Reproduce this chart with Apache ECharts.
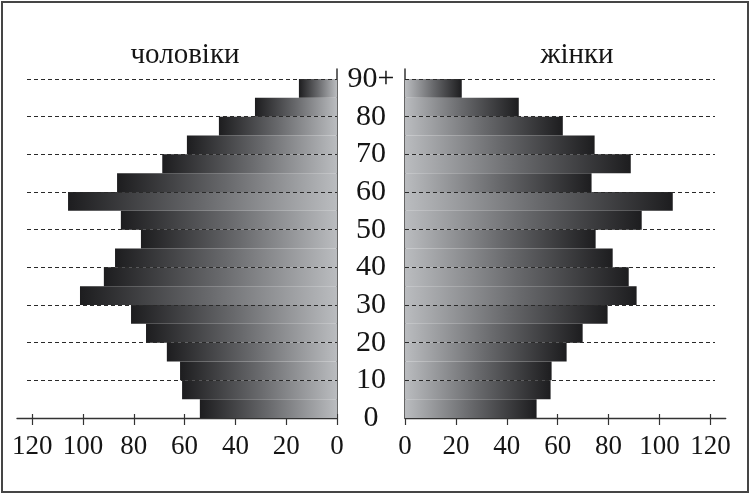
<!DOCTYPE html>
<html>
<head>
<meta charset="utf-8">
<script src="https://cdn.jsdelivr.net/npm/echarts@6/dist/echarts.min.js"></script>
<style>
  html, body { margin: 0; padding: 0; background: #fff; }
  #wrap { position: relative; width: 750px; height: 494px; }
  #chart { position: absolute; left: 0; top: 0; width: 750px; height: 494px; }
  #frame { position: absolute; left: 1px; top: 1px; width: 744px; height: 488px;
           border: 2px solid #454545; pointer-events: none; }
</style>
</head>
<body>
<div id="wrap"><div id="chart"></div><div id="frame"></div></div>
<script>
// ---- data (age groups bottom -> top) ----
const ageGroups = ['0-4','5-9','10-14','15-19','20-24','25-29','30-34','35-39','40-44',
                   '45-49','50-54','55-59','60-64','65-69','70-74','75-79','80-84','85-89'];
const maleValues   = [54.0, 61.0, 61.8, 67.0, 75.2, 81.1, 101.2, 91.8, 87.4,
                      77.2, 85.1, 105.9, 86.6, 68.8, 59.1, 46.5, 32.3, 15.0];
const femaleValues = [51.7, 57.2, 57.6, 63.5, 69.8, 79.6, 91.0, 87.9, 81.6,
                      74.9, 93.0, 105.2, 73.3, 88.7, 74.5, 62.0, 44.7, 22.3];
const valueTicks = [0, 20, 40, 60, 80, 100, 120];
const ageTicks = [0, 10, 20, 30, 40, 50, 60, 70, 80, 90];
const ageTopLabel = '90+';
const titleMale = 'чоловіки';
const titleFemale = 'жінки';

const FONT = '"Liberation Serif", "DejaVu Serif", serif';
const INK = '#151515';
const LINE = '#333333';

function grad(darkLeft) {
  const stops = [
    { offset: 0, color: '#1d1d1f' },
    { offset: 0.5, color: '#68696c' },
    { offset: 1, color: '#babcbf' }
  ];
  const s = darkLeft ? stops : stops.map(o => ({ offset: 1 - o.offset, color: o.color })).reverse();
  return { type: 'linear', x: 0, y: 0, x2: 1, y2: 0, colorStops: s };
}

function valueAxis(gridIndex, inverse) {
  return {
    type: 'value', gridIndex, inverse, min: 0, max: 126, interval: 20,
    axisLine: { show: true, onZero: false, lineStyle: { color: LINE, width: 1.4 } },
    axisTick: { show: true, length: 7, customValues: valueTicks, lineStyle: { color: LINE, width: 1.2 } },
    axisLabel: { show: true, customValues: valueTicks, margin: 15, color: INK,
                 fontFamily: FONT, fontSize: 27 },
    splitLine: { show: false }
  };
}
function innerTickAxis(gridIndex, inverse) {
  return {
    type: 'value', gridIndex, inverse, min: 0, max: 126, interval: 20, position: 'bottom',
    axisLine: { show: false },
    axisTick: { show: true, inside: true, length: 4, customValues: valueTicks, lineStyle: { color: LINE, width: 1.2 } },
    axisLabel: { show: false }, splitLine: { show: false }
  };
}
function dashAxis(gridIndex, withLabels) {
  return {
    type: 'value', gridIndex, min: 0, max: 90, interval: 10, z: 5, position: 'left',
    axisLine: { show: false }, axisTick: { show: false },
    axisLabel: withLabels ? {
      show: true, align: 'center', margin: 34, color: INK, fontFamily: FONT, fontSize: 30,
      formatter: v => (v === 90 ? ageTopLabel : String(v))
    } : { show: false },
    splitLine: { show: true, showMinLine: false, lineStyle: { color: '#2a2a2a', width: 1, type: [4, 3] } }
  };
}

const chart = echarts.init(document.getElementById('chart'), null, { renderer: 'canvas' });
chart.setOption({
  animation: false,
  backgroundColor: '#fff',
  title: [
    { text: titleMale, left: 180, top: 36, textAlign: 'center',
      textStyle: { fontFamily: FONT, fontSize: 29, fontWeight: 'normal', color: INK } },
    { text: titleFemale, left: 572, top: 36, textAlign: 'center',
      textStyle: { fontFamily: FONT, fontSize: 29, fontWeight: 'normal', color: INK } }
  ],
  grid: [
    { left: 17, width: 320, top: 79, height: 339 },     // males
    { left: 405, width: 320.7, top: 79, height: 339 },  // females
    { left: 27, width: 310, top: 79, height: 339 },     // left dashed lines
    { left: 405, width: 310, top: 79, height: 339 },    // right dashed lines + age labels
    { left: 337, width: 68, top: 69, height: 349 }      // vertical axis lines
  ],
  xAxis: [
    valueAxis(0, true),
    innerTickAxis(0, true),
    valueAxis(1, false),
    innerTickAxis(1, false),
    { type: 'value', gridIndex: 2, show: false },
    { type: 'value', gridIndex: 3, show: false },
    { type: 'value', gridIndex: 4, show: false }
  ],
  yAxis: [
    { type: 'category', gridIndex: 0, data: ageGroups, show: false },
    { type: 'category', gridIndex: 1, data: ageGroups, show: false },
    dashAxis(2, false),
    dashAxis(3, true),
    { type: 'value', gridIndex: 4, position: 'left', min: 0, max: 1,
      axisLine: { show: true, lineStyle: { color: LINE, width: 1.5 } },
      axisTick: { show: false }, axisLabel: { show: false }, splitLine: { show: false } },
    { type: 'value', gridIndex: 4, position: 'right', min: 0, max: 1,
      axisLine: { show: true, lineStyle: { color: LINE, width: 1.5 } },
      axisTick: { show: false }, axisLabel: { show: false }, splitLine: { show: false } }
  ],
  series: [
    { type: 'bar', name: titleMale, xAxisIndex: 0, yAxisIndex: 0, data: maleValues,
      barCategoryGap: '0%', silent: true, itemStyle: { color: grad(true) } },
    { type: 'bar', name: titleFemale, xAxisIndex: 2, yAxisIndex: 1, data: femaleValues,
      barCategoryGap: '0%', silent: true, itemStyle: { color: grad(false) } }
  ]
});
</script>
</body>
</html>
